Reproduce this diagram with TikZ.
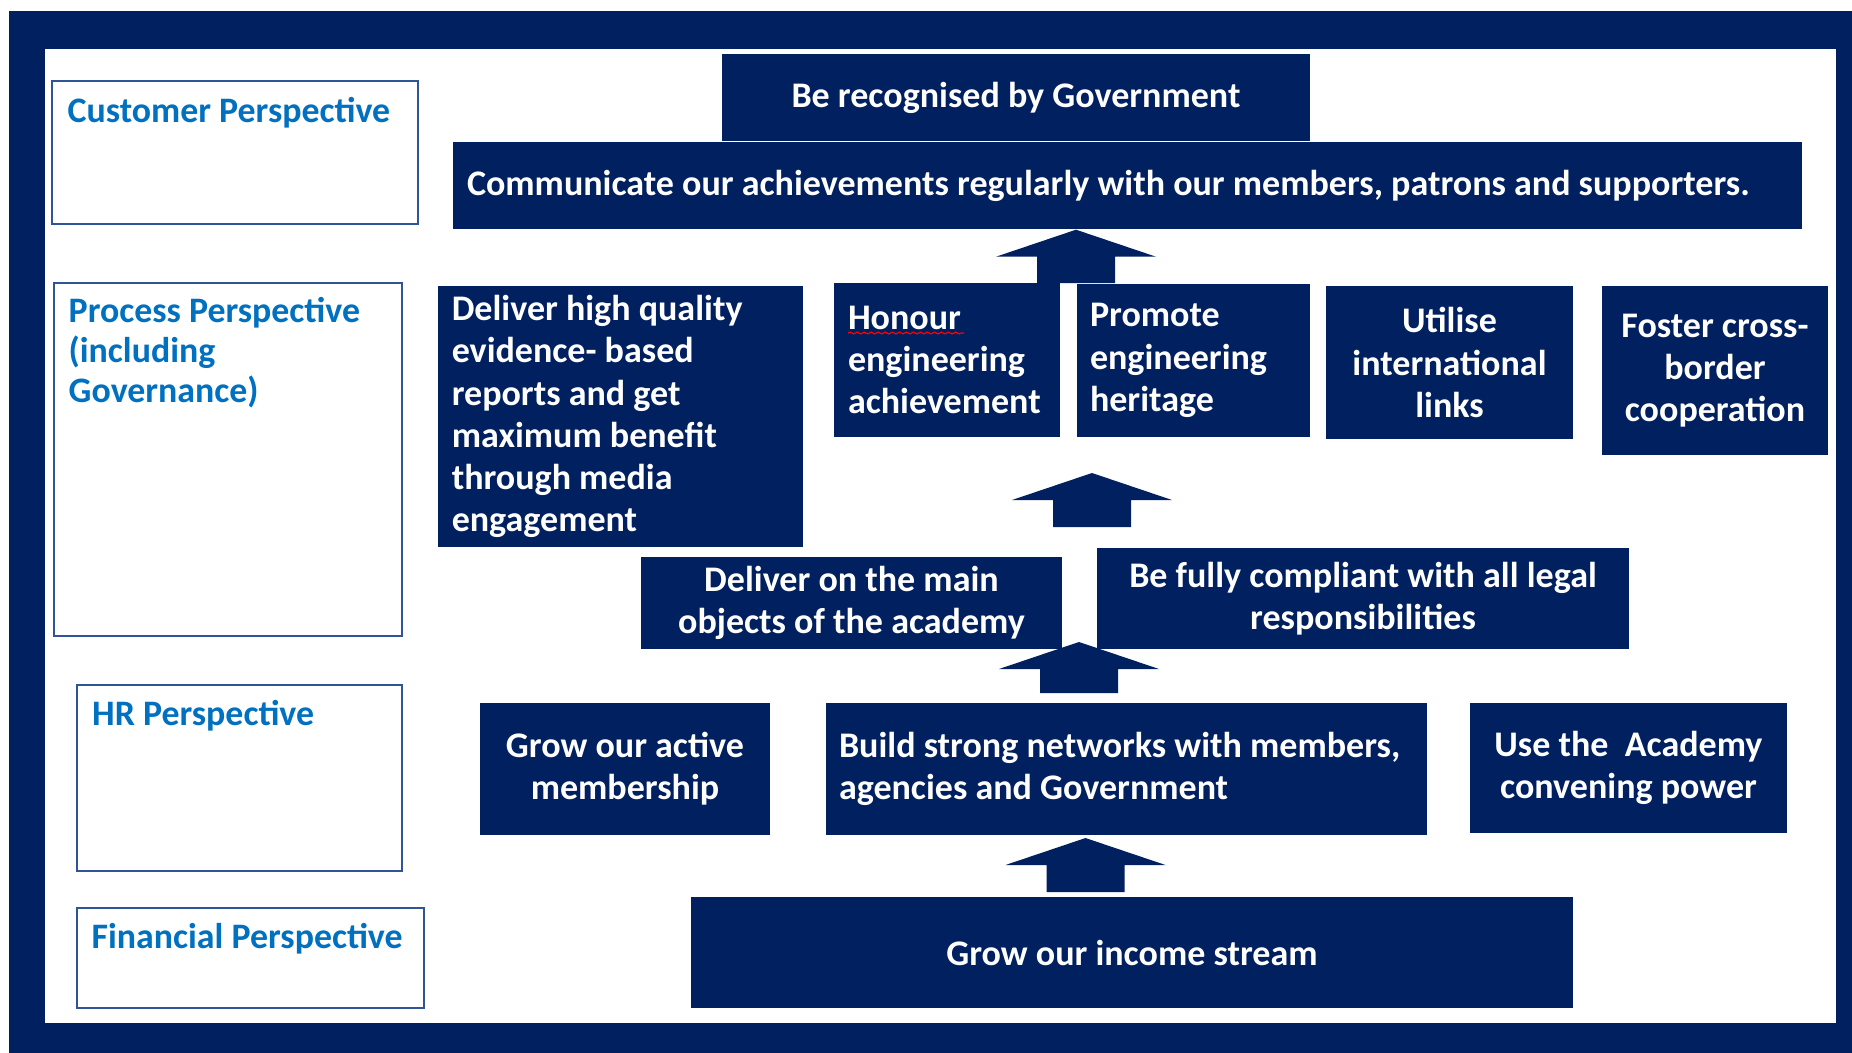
\documentclass[tikz,border=0pt]{standalone}
\usepackage{fontspec}
\setmainfont{Carlito}
\usetikzlibrary{calc,decorations.pathmorphing}

\definecolor{navy}{RGB}{0,32,96}
\definecolor{headblue}{RGB}{0,112,192}
\definecolor{edgeblue}{RGB}{47,85,151}

% fat up arrow from #1 (base) to #2 (tip)
\newcommand{\uparr}[2]{%
  \fill[navy] ($(#1)+(-0.39,0)$) |- ($(#2)+(-0.8,-0.27)$) -- (#2)
    -- ($(#2)+(0.8,-0.27)$) -| ($(#1)+(0.39,0)$) -- cycle;}

\begin{document}
\begin{tikzpicture}[font=\bfseries\fontsize{10.25}{12}\selectfont]
\tikzstyle{goal}=[rectangle,fill=navy,text=white,inner sep=0pt,align=center]
\tikzstyle{persp}=[rectangle,draw=edgeblue,line width=0.6pt,fill=white,inner sep=0pt]
\tikzstyle{plabel}=[text=headblue,inner sep=0pt,anchor=base west,align=flush left,
  font=\bfseries\fontsize{10.2}{11.4}\selectfont]

\useasboundingbox (0,0) rectangle (18.52,-10.53);
% frame
\fill[navy] (0.09,-0.11) rectangle (18.52,-10.53);
\fill[white] (0.45,-0.49) rectangle (18.36,-10.23);

% perspectives
\node[persp, minimum width=3.66cm, minimum height=1.43cm] (cust) at (2.35,-1.525) {};
\node[persp, minimum width=3.475cm, minimum height=3.53cm] (proc) at (2.28,-4.595) {};
\node[persp, minimum width=3.25cm, minimum height=1.86cm] (hr) at (2.395,-7.78) {};
\node[persp, minimum width=3.47cm, minimum height=1.0cm] (fin) at (2.505,-9.58) {};
\node[plabel] (custlbl) at (0.67,-1.22) {Customer Perspective};
\node[plabel, text width=3.2cm] (proclbl) at (0.68,-3.22) {Process Perspective\\(including\\Governance)};
\node[plabel] (hrlbl) at (0.915,-7.25) {HR Perspective};
\node[plabel] (finlbl) at (0.91,-9.48) {Financial Perspective};

% customer
\node[goal, minimum width=5.88cm, minimum height=0.87cm] (recog) at (10.16,-0.975) {Be recognised by Government};
\node[goal, align=flush left, text width=13.21cm, minimum width=13.49cm, minimum height=0.87cm] (comm) at (11.275,-1.855)
  {Communicate our achievements regularly with our members, patrons and supporters.};

% process
\node[goal, align=flush left, text width=3.37cm, minimum width=3.655cm, minimum height=2.61cm] (deliver) at (6.2025,-4.165)
  {Deliver high quality\\evidence- based\\reports and get\\maximum benefit\\through media\\engagement};
\node[goal, align=flush left, text width=1.98cm, minimum width=2.26cm, minimum height=1.54cm] (honour) at (9.47,-3.6)
  {Honour\\engineering\\achievement};
\node[goal, align=flush left, text width=2.07cm, minimum width=2.33cm, minimum height=1.53cm] (promote) at (11.935,-3.605)
  {Promote\\engineering\\heritage};
\node[goal, minimum width=2.47cm, minimum height=1.53cm] (utilise) at (14.495,-3.625)
  {Utilise\\international\\links};
\node[goal, minimum width=2.26cm, minimum height=1.69cm] (foster) at (17.15,-3.705)
  {Foster cross-\\border\\cooperation};
\node[goal, minimum width=4.21cm, minimum height=0.92cm] (mainobj) at (8.515,-6.03)
  {Deliver on the main\\objects of the academy};
\node[goal, minimum width=5.32cm, minimum height=1.01cm] (legal) at (13.63,-5.985)
  {Be fully compliant with all legal\\responsibilities};

% hr
\node[goal, minimum width=2.9cm, minimum height=1.32cm] (member) at (6.25,-7.69)
  {Grow our active\\membership};
\node[goal, align=flush left, text width=5.75cm, minimum width=6.01cm, minimum height=1.32cm] (network) at (11.265,-7.69)
  {Build strong networks with members,\\agencies and Government};
\node[goal, minimum width=3.17cm, minimum height=1.30cm] (convene) at (16.285,-7.68)
  {Use the~ Academy\\convening power};

% financial
\node[goal, minimum width=8.82cm, minimum height=1.11cm] (income) at (11.32,-9.525) {Grow our income stream};

% spell check mark
\draw[red, line width=0.35pt, decorate, decoration={snake, amplitude=0.25pt, segment length=2pt}]
  (8.48,-3.33) -- (9.64,-3.33);

% arrows
\coordinate (a1b) at (10.76,-2.83);
\coordinate (a1t) at (a1b |- comm.south);
\coordinate (a2b) at (10.92,-5.27);
\coordinate (a2t) at (10.92,-4.73);
\coordinate (a3b) at (10.79,-6.93);
\coordinate (a3t) at (10.79,-6.42);
\coordinate (a4b) at (10.855,-8.92);
\coordinate (a4t) at (10.855,-8.38);
\uparr{a1b}{a1t}
\uparr{a2b}{a2t}
\uparr{a3b}{a3t}
\uparr{a4b}{a4t}

\end{tikzpicture}
\end{document}
